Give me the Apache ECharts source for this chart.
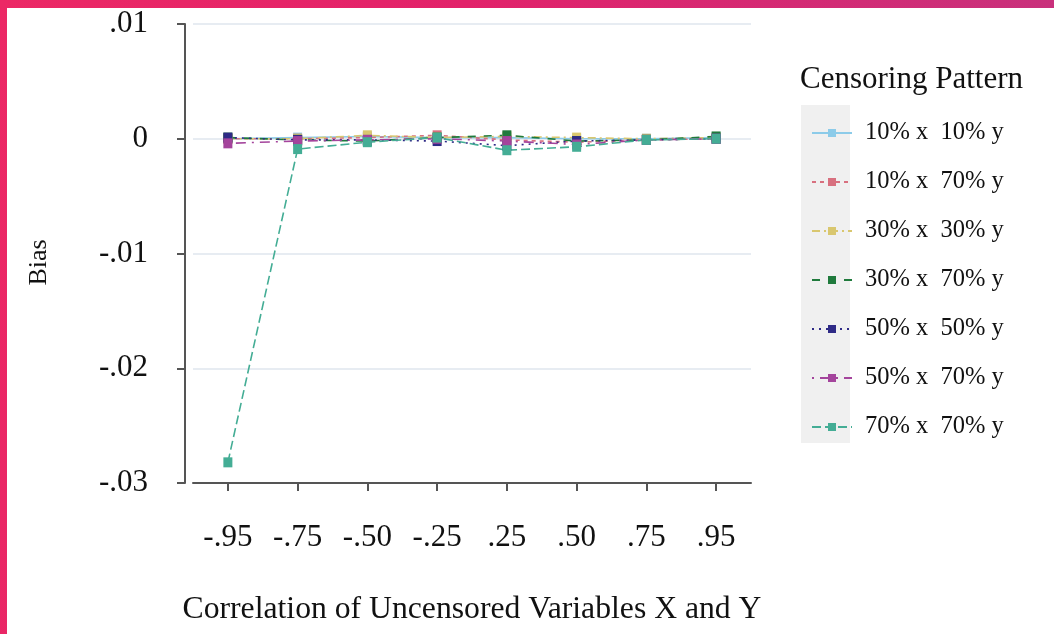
<!DOCTYPE html>
<html>
<head>
<meta charset="utf-8">
<script src="https://cdn.jsdelivr.net/npm/echarts@6/dist/echarts.min.js"></script>
<style>
  html, body { margin: 0; padding: 0; width: 1054px; height: 634px; overflow: hidden; }
  body { background: linear-gradient(100deg, #ec2865 0%, #e2226a 40%, #c4337f 100%); position: relative; }
  #paper { position: absolute; left: 7px; top: 8px; right: 0; bottom: 0; background: #ffffff; }
  #chart { position: absolute; left: 0; top: 0; width: 1054px; height: 634px; }
</style>
</head>
<body>
<div id="paper"></div>
<div id="chart"></div>
<script>
// ---- data ----
const categories = ['-.95', '-.75', '-.50', '-.25', '.25', '.50', '.75', '.95'];
const yTickValues = [0.01, 0, -0.01, -0.02, -0.03];
const yTickLabels = ['.01', '0', '-.01', '-.02', '-.03'];
const seriesNames = ['10% x  10% y', '10% x  70% y', '30% x  30% y', '30% x  70% y', '50% x  50% y', '50% x  70% y', '70% x  70% y'];
const s10x10 = [0.0000, 0.0001, 0.0002, 0.0001, 0.0001, 0.0000, 0.0000, 0.0001];
const s10x70 = [0.0000, 0.0000, 0.0001, 0.0003, -0.0001, -0.0003, -0.0001, 0.0000];
const s30x30 = [0.0000, 0.0000, 0.0003, 0.0001, 0.0002, 0.0001, 0.0000, 0.0001];
const s30x70 = [0.0001, -0.0001, -0.0002, 0.0001, 0.0003, -0.0002, -0.0001, 0.0002];
const s50x50 = [0.0001, -0.0001, -0.0001, -0.0002, -0.0006, -0.0002, -0.0001, 0.0000];
const s50x70 = [-0.0004, -0.0002, -0.0001, 0.0000, -0.0002, -0.0005, -0.0001, 0.0000];
const s70x70 = [-0.0282, -0.0009, -0.0003, 0.0001, -0.0010, -0.0007, -0.0001, 0.0000];
const seriesValues = [s10x10, s10x70, s30x30, s30x70, s50x50, s50x70, s70x70];

// ---- styles ----
const colors = ['#8ccbe9', '#d8707f', '#d9c76f', '#1f7a3c', '#2e2a86', '#a4449c', '#44ad95'];
const dashes = ['solid', [4, 4], [8, 4, 2, 4], [8, 8], [2, 5], [2, 6, 10, 6], [9, 4]];
const serif = '"Liberation Serif", "Times New Roman", serif';

const chart = echarts.init(document.getElementById('chart'), null, { renderer: 'canvas' });

const series = seriesNames.map((name, i) => ({
  name: name,
  type: 'line',
  data: seriesValues[i],
  symbol: 'rect',
  symbolSize: [9, 10],
  showAllSymbol: true,
  itemStyle: { color: colors[i] },
  lineStyle: { color: colors[i], width: 1.6, type: dashes[i] },
  emphasis: { disabled: true },
  animation: false
}));

chart.setOption({
  animation: false,
  backgroundColor: 'transparent',
  textStyle: { fontFamily: serif },
  grid: { left: 193, top: 24, width: 558, height: 459, containLabel: false },
  xAxis: {
    type: 'category',
    data: categories,
    boundaryGap: true,
    name: 'Correlation of Uncensored Variables X and Y',
    nameLocation: 'middle',
    nameGap: 111,
    nameTextStyle: { fontFamily: serif, fontSize: 31.7, color: '#111' },
    axisLine: { show: true, onZero: false, lineStyle: { color: '#555', width: 2 } },
    axisTick: { show: true, alignWithLabel: true, length: 8, lineStyle: { color: '#555', width: 2 } },
    axisLabel: { fontFamily: serif, fontSize: 31, color: '#111', margin: 39 },
    splitLine: { show: false }
  },
  yAxis: {
    type: 'value',
    min: -0.03,
    max: 0.01,
    interval: 0.01,
    offset: 8,
    name: 'Bias',
    nameLocation: 'middle',
    nameRotate: 90,
    nameGap: 133,
    nameTextStyle: { fontFamily: serif, fontSize: 26, color: '#111', padding: [0, 18, 0, 0] },
    axisLine: { show: true, lineStyle: { color: '#555', width: 2 } },
    axisTick: { show: true, length: 8, lineStyle: { color: '#555', width: 2 } },
    axisLabel: {
      fontFamily: serif, fontSize: 31, color: '#111', margin: 37,
      formatter: function (v) {
        for (let k = 0; k < yTickValues.length; k++) {
          if (Math.abs(v - yTickValues[k]) < 1e-9) return yTickLabels[k];
        }
        return '';
      }
    },
    splitLine: { show: true, lineStyle: { color: '#dfe6ee', width: 1.5 } }
  },
  legend: {
    orient: 'vertical',
    left: 806,
    top: 114,
    itemWidth: 40,
    itemHeight: 10,
    itemGap: 21,
    data: seriesNames,
    selectedMode: false,
    textStyle: { fontFamily: serif, fontSize: 24.5, color: '#111', lineHeight: 28, padding: [0, 0, 0, 8] }
  },
  graphic: [
    { type: 'rect', left: 801, top: 105, z: -1, shape: { width: 49, height: 338 }, style: { fill: '#f0f0f0' }, silent: true },
    { type: 'text', left: 800, top: 64, style: { text: 'Censoring Pattern', font: '31px ' + serif, fill: '#111' }, silent: true }
  ],
  series: series
});
</script>
</body>
</html>
